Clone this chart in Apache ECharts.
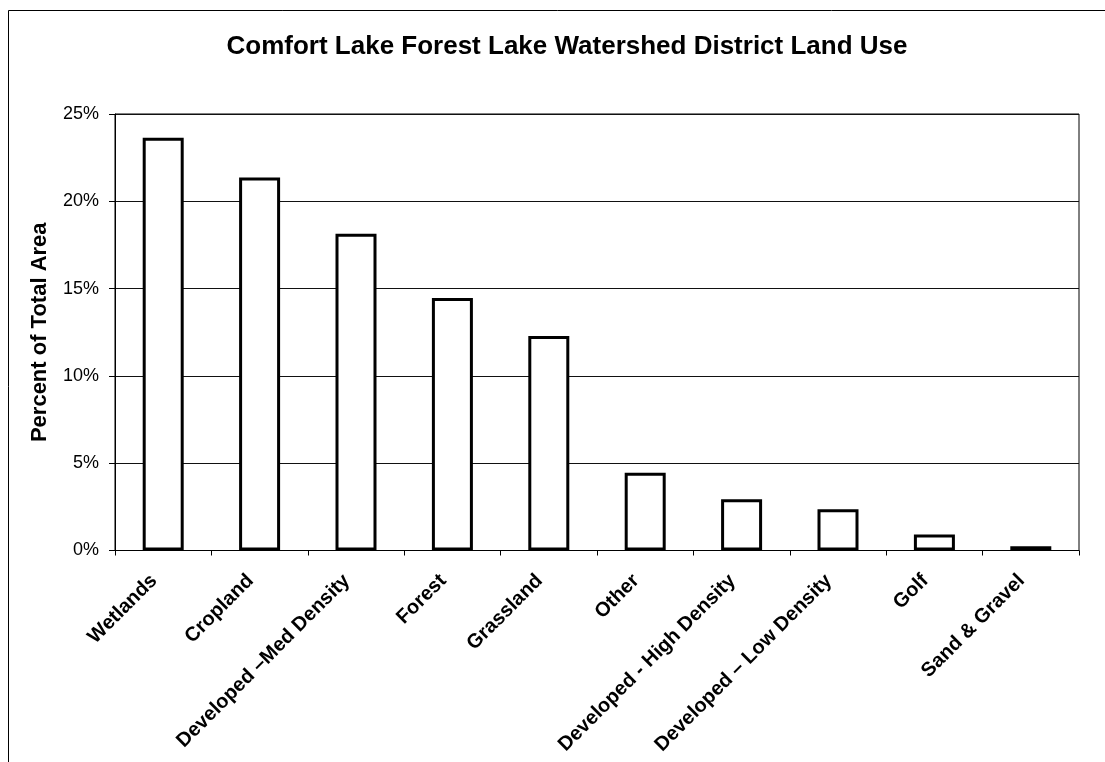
<!DOCTYPE html>
<html>
<head>
<meta charset="utf-8">
<script src="https://cdn.jsdelivr.net/npm/echarts@6/dist/echarts.min.js"></script>
<style>
html,body{margin:0;padding:0;background:#fff;}
#chart{width:1105px;height:762px;}
</style>
</head>
<body>
<div id="chart"></div>
<script>
const categories = ['Wetlands','Cropland','Developed \u2013Med Density','Forest','Grassland','Other','Developed - High Density','Developed \u2013 Low Density','Golf','Sand & Gravel'];
const percentValues = [23.64, 21.37, 18.14, 14.46, 12.28, 4.46, 2.94, 2.36, 0.92, 0.25];
const yTicks = [0, 5, 10, 15, 20, 25];

const chart = echarts.init(document.getElementById('chart'), null, {renderer:'canvas'});
const FONT = 'Arial, "Liberation Sans", sans-serif';
chart.setOption({
  animation:false,
  backgroundColor:'#fff',
  title:{
    text:'Comfort Lake Forest Lake Watershed District Land Use',
    left:562, top:29, textAlign:'center',
    textStyle:{fontFamily:FONT, fontWeight:'bold', fontSize:26, color:'#000'}
  },
  graphic:[{
    type:'rect', shape:{x:8.5,y:10.5,width:1300,height:1000},
    style:{fill:'none', stroke:'#000', lineWidth:1}, silent:true, z:-1
  }],
  grid:{left:115, top:114, right:26, bottom:211.5, show:true, borderColor:'#000', borderWidth:1, containLabel:false},
  xAxis:{
    type:'category', data:categories,
    axisLine:{lineStyle:{color:'#000', width:1}},
    axisTick:{show:true, alignWithLabel:false, length:5, lineStyle:{color:'#000'}},
    axisLabel:{rotate:45, interval:0, margin:18, padding:[0,13,0,0], fontFamily:FONT, fontWeight:'bold', fontSize:20, color:'#000'}
  },
  yAxis:{
    type:'value', min:yTicks[0], max:yTicks[yTicks.length-1], interval:5,
    name:'Percent of Total Area', nameLocation:'middle', nameGap:64,
    nameTextStyle:{fontFamily:FONT, fontWeight:'bold', fontSize:22, color:'#000'},
    axisLine:{show:true, lineStyle:{color:'#000'}},
    axisTick:{show:true, length:6, lineStyle:{color:'#000'}},
    axisLabel:{formatter:'{value}%', margin:16, fontFamily:FONT, fontSize:18, color:'#000'},
    splitLine:{show:true, lineStyle:{color:'#111', width:1}}
  },
  series:[{
    type:'bar', data:percentValues, barWidth:41,
    itemStyle:{color:'#fff', borderColor:'#000', borderWidth:3}
  }]
});
</script>
</body>
</html>
